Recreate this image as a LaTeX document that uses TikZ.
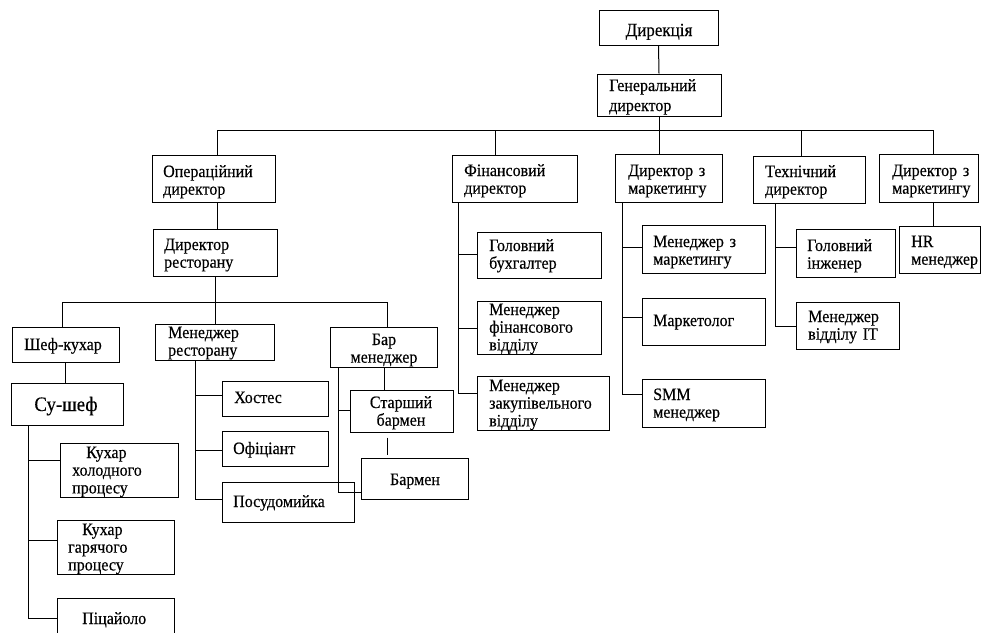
\documentclass[tikz,border=0pt]{standalone}
\usepackage{fontspec}
\setmainfont{Liberation Serif}[FakeStretch=0.92,FakeBold=0.3]
\usetikzlibrary{fit,calc}
\begin{document}
\begin{tikzpicture}[x=1pt,y=-1pt,
  box/.style={draw, line width=1pt, inner sep=0pt},
  conn/.style={line width=1pt},
  txt/.style={inner sep=0pt, anchor=base west, text width=150pt, align=left,
              font=\fontsize{17.4}{17.7}\selectfont},
  ctxt/.style={inner sep=0pt, anchor=base, text width=110pt, align=center,
              font=\fontsize{17.4}{17.7}\selectfont}]
\fill[white] (0,0) rectangle (982,632);
\useasboundingbox (0,0) rectangle (982,632);
\clip (0,0) rectangle (982,632);

% ---------- boxes ----------
\node[box, fit={(599,10) (718,45)}] (dir) {};
\node[box, fit={(597,74) (721,116)}] (gen) {};
\node[box, fit={(152,155) (275,202)}] (op) {};
\node[box, fit={(452,155) (577,202)}] (fin) {};
\node[box, fit={(615,154) (722,202)}] (mk1) {};
\node[box, fit={(753,156) (865,203)}] (tech) {};
\node[box, fit={(879,154) (978,202)}] (mk2) {};
\node[box, fit={(153,229) (277,276)}] (rest) {};
\node[box, fit={(477,232) (601,278)}] (buh) {};
\node[box, fit={(477,301) (601,354)}] (mfin) {};
\node[box, fit={(477,376) (609,430)}] (mzak) {};
\node[box, fit={(642,225) (765,273)}] (mmk) {};
\node[box, fit={(642,298) (765,345)}] (mktl) {};
\node[box, fit={(642,379) (765,427)}] (smm) {};
\node[box, fit={(796,229) (895,277)}] (ing) {};
\node[box, fit={(796,302) (899,349)}] (mit) {};
\node[box, fit={(899,226) (980,273)}] (hr) {};
\node[box, fit={(12,327) (119,362)}] (chef) {};
\node[box, fit={(11,383) (123,425)}] (sous) {};
\node[box, fit={(155,324) (274,360)}] (mres) {};
\node[box, fit={(330,327) (437,367)}] (bar) {};
\node[box, fit={(350,390) (453,432)}] (sbar) {};
\node[box, fit={(361,458) (468,499)}] (barm) {};
\node[box, fit={(222,381) (328,416)}] (host) {};
\node[box, fit={(222,431) (328,466)}] (ofic) {};
\node[box, fit={(222,482) (354,522)}] (posud) {};
\node[box, fit={(60,443) (178,497)}] (kh) {};
\node[box, fit={(57,520) (174,574)}] (kg) {};
\node[box, fit={(57,598) (174,645)}] (pic) {};

% ---------- texts ----------
\node[ctxt, font=\fontsize{18.5}{19}\selectfont] (dir-t) at (659,36) {Дирекція};
\node[txt] (gen-t) at (609,91) {Генеральний\\[2.3pt]директор};
\node[txt] (op-t) at (163,177) {Операційний\\директор};
\node[txt] (fin-t) at (464,176) {Фінансовий\\директор};
\node[txt] (mk1-t) at (628,176) {Директор з\\маркетингу};
\node[txt] (tech-t) at (765,177) {Технічний\\директор};
\node[txt] (mk2-t) at (892,176) {Директор з\\маркетингу};
\node[txt] (rest-t) at (164,250) {Директор\\ресторану};
\node[txt] (buh-t) at (489,251) {Головний\\бухгалтер};
\node[txt] (mfin-t) at (489,315) {Менеджер\\фінансового\\відділу};
\node[txt] (mzak-t) at (489,391) {Менеджер\\закупівельного\\відділу};
\node[txt] (mmk-t) at (653,247) {Менеджер з\\маркетингу};
\node[txt] (mktl-t) at (653,326) {Маркетолог};
\node[txt] (smm-t) at (653,400) {SMM\\менеджер};
\node[txt] (ing-t) at (807,251) {Головний\\інженер};
\node[txt] (mit-t) at (808,322) {Менеджер\\відділу IT};
\node[txt] (hr-t) at (911,247) {HR\\менеджер};
\node[ctxt] (chef-t) at (63,350) {Шеф-кухар};
\node[ctxt, font=\fontsize{20.5}{21}\selectfont] (sous-t) at (66,411) {Су-шеф};
\node[txt] (mres-t) at (168,338) {Менеджер\\ресторану};
\node[ctxt] (bar-t) at (384,345) {Бар\\менеджер};
\node[ctxt] (sbar-t) at (401,408) {Старший\\бармен};
\node[ctxt] (barm-t) at (415,485) {Бармен};
\node[txt] (host-t) at (234,403) {Хостес};
\node[txt] (ofic-t) at (233,454) {Офіціант};
\node[txt] (posud-t) at (233,507) {Посудомийка};
\node[txt] (kh-t) at (72,458) {\hspace*{14pt}Кухар\\холодного\\процесу};
\node[txt] (kg-t) at (68,535) {\hspace*{14pt}Кухар\\гарячого\\процесу};
\node[txt] (pic-t) at (82,624) {Піцайоло};

% ---------- connectors ----------
\draw[conn] (dir.south) -- (gen.north);
\draw[conn] (gen.south) -- (gen.south |- mk1.north);
\coordinate (busL) at (217,130);
\coordinate (busR) at (933,130);
\coordinate (finx) at (495,130);
\coordinate (techx) at (801,130);
\draw[conn] (busL) -- (busR);
\draw[conn] (busL) -- (busL |- op.north);
\draw[conn] (finx) -- (finx |- fin.north);
\draw[conn] (techx) -- (techx |- tech.north);
\draw[conn] (busR) -- (busR |- mk2.north);
\draw[conn] (op.south -| busL) -- (busL |- rest.north);
\draw[conn] (mk2.south -| busR) -- (busR |- hr.north);

% financial
\coordinate (f1) at (458,254);
\coordinate (f2) at (458,328);
\coordinate (f3) at (458,393);
\draw[conn] (fin.south -| f3) -- (f3) -- (f3 -| mzak.west);
\draw[conn] (f1) -- (f1 -| buh.west);
\draw[conn] (f2) -- (f2 -| mfin.west);

% marketing
\coordinate (m1) at (622,247);
\coordinate (m2) at (622,317);
\coordinate (m3) at (622,394);
\draw[conn] (mk1.south -| m3) -- (m3) -- (m3 -| smm.west);
\draw[conn] (m1) -- (m1 -| mmk.west);
\draw[conn] (m2) -- (m2 -| mktl.west);

% technical
\coordinate (t1) at (775,247);
\coordinate (t2) at (775,326);
\draw[conn] (tech.south -| t2) -- (t2) -- (t2 -| mit.west);
\draw[conn] (t1) -- (t1 -| ing.west);

% restaurant
\coordinate (rb) at (215,302);
\coordinate (rbL) at (62,302);
\coordinate (rbR) at (387,302);
\draw[conn] (rest.south -| rb) -- (rb);
\draw[conn] (rbL) -- (rbR);
\draw[conn] (rbL) -- (rbL |- chef.north);
\draw[conn] (rb) -- (rb |- mres.north);
\draw[conn] (rbR) -- (rbR |- bar.north);

% kitchen
\coordinate (cs) at (65,0);
\draw[conn] (chef.south -| cs) -- (cs |- sous.north);
\coordinate (s1) at (28,460);
\coordinate (s2) at (28,540);
\coordinate (s3) at (28,618);
\draw[conn] (sous.south -| s3) -- (s3) -- (s3 -| pic.west);
\draw[conn] (s1) -- (s1 -| kh.west);
\draw[conn] (s2) -- (s2 -| kg.west);

% restaurant manager
\coordinate (r1) at (195,395);
\coordinate (r2) at (195,450);
\coordinate (r3) at (195,499);
\draw[conn] (mres.south -| r3) -- (r3) -- (r3 -| posud.west);
\draw[conn] (r1) -- (r1 -| host.west);
\draw[conn] (r2) -- (r2 -| ofic.west);

% bar
\coordinate (bv) at (338,492);
\coordinate (bs) at (338,410);
\draw[conn] (bar.south -| bv) -- (bv) -- (bv -| barm.west);
\draw[conn] (bs) -- (bs -| sbar.west);
\coordinate (bx) at (384,0);
\draw[conn] (bar.south -| bx) -- (bx |- sbar.north);
\coordinate (gx) at (387,0);
\draw[conn] ($(sbar.south -| gx)+(0,5)$) -- ($(barm.north -| gx)+(0,-3)$);
\end{tikzpicture}
\end{document}
